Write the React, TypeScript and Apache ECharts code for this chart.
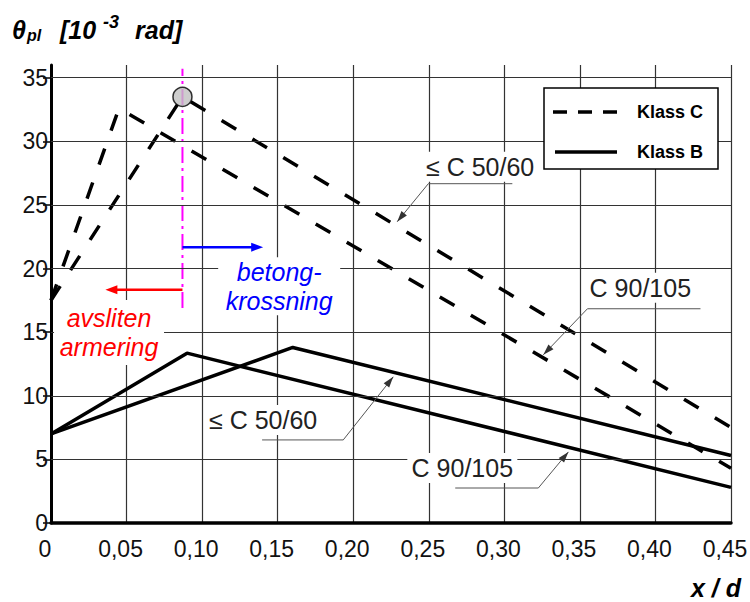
import React, { useEffect, useRef } from "react";
import * as echarts from "echarts";

// ---- data ----
const xTickValues = [0, 0.05, 0.1, 0.15, 0.2, 0.25, 0.3, 0.35, 0.4, 0.45];
const yTickValues = [0, 5, 10, 15, 20, 25, 30, 35];

// Klass C (dashed)
const klassC_50 = [[0, 17.5], [0.087, 33.5], [0.45, 7.5]];
const klassC_90 = [[0, 17.5], [0.045, 32.6], [0.45, 4.3]];
// Klass B (solid)
const klassB_50 = [[0, 7.0], [0.16, 13.8], [0.45, 5.3]];
const klassB_90 = [[0, 7.0], [0.09, 13.35], [0.45, 2.8]];

const peakPoint = [[0.087, 33.5]];
const boundaryLine = [[0.087, 16.9], [0.087, 35.7]];
const redArrow = [[0.087, 18.33], [0.036, 18.33]];
const blueArrow = [[0.087, 21.68], [0.1404, 21.68]];

const curveLabels = ["≤ C 50/60", "C 90/105", "≤ C 50/60", "C 90/105"];
const curveLabelAt = [[0.284, 28.0], [0.39, 18.49], [0.1404, 8.1], [0.2722, 4.33]];
const curveLeaders = [
  [[0.3053, 26.67], [0.2497, 26.67], [0.2291, 23.68]],
  [[0.4298, 16.84], [0.355, 16.84], [0.3258, 13.22]],
  [[0.1397, 6.53], [0.1934, 6.53], [0.2265, 11.49]],
  [[0.2675, 2.75], [0.3225, 2.75], [0.3424, 5.59]],
];

const noteTexts = [["avsliten", "armering"], ["betong-", "krossning"]];
const noteAt = [[0.0384, 14.98], [0.151, 18.6]];
const noteColors = ["#ff0000", "#0000ff"];

const FONT = "Arial, 'Liberation Sans', sans-serif";

export default function App() {
  const ref = useRef<HTMLDivElement>(null);

  useEffect(() => {
    if (!ref.current) return;
    const chart = echarts.init(ref.current, null, { renderer: "svg" });

    const option: any = {
      animation: false,
      backgroundColor: "#ffffff",
      grid: {
        left: 51,
        right: 19,
        top: 65,
        bottom: 79,
        containLabel: false,
        outerBoundsMode: "none",
      },
      xAxis: {
        type: "value",
        min: 0,
        max: 0.45,
        interval: 0.05,
        axisLine: { show: true, onZero: false, lineStyle: { color: "#000", width: 3.5 } },
        axisTick: { show: false },
        axisLabel: {
          fontFamily: FONT,
          fontSize: 23,
          color: "#111",
          margin: 14,
          padding: [0, 12, 0, 0],
          formatter: (v: number) => (Math.abs(v) < 1e-9 ? "0" : v.toFixed(2).replace(".", ",")),
        },
        splitLine: { show: true, lineStyle: { color: "#333", width: 1.2 } },
      },
      yAxis: {
        type: "value",
        min: 0,
        max: 36,
        interval: 5,
        axisLine: { show: true, onZero: false, lineStyle: { color: "#000", width: 3 } },
        axisTick: {
          show: true,
          length: 8,
          customValues: yTickValues,
          lineStyle: { color: "#000", width: 1.5 },
        },
        axisLabel: {
          fontFamily: FONT,
          fontSize: 23,
          color: "#111",
          margin: 3,
          customValues: yTickValues,
          formatter: (v: number) => (v % 5 === 0 ? String(v) : ""),
        },
        splitLine: { show: false },
      },
      series: [
        {
          type: "line",
          data: [],
          silent: true,
          markLine: {
            silent: true,
            symbol: "none",
            label: { show: false },
            lineStyle: { color: "#333", width: 1.2, type: "solid" },
            data: yTickValues.filter((v) => v > 0).map((v) => ({ yAxis: v })),
          },
        },
        {
          name: "Klass C ≤ C 50/60",
          type: "line",
          data: klassC_50,
          symbol: "none",
          lineStyle: { color: "#000", width: 3.5, type: [17, 19] },
          z: 3,
        },
        {
          name: "Klass C C 90/105",
          type: "line",
          data: klassC_90,
          symbol: "none",
          lineStyle: { color: "#000", width: 3.5, type: [17, 19] },
          z: 3,
        },
        {
          name: "Klass B ≤ C 50/60",
          type: "line",
          data: klassB_50,
          symbol: "none",
          lineStyle: { color: "#000", width: 3.5 },
          z: 3,
        },
        {
          name: "Klass B C 90/105",
          type: "line",
          data: klassB_90,
          symbol: "none",
          lineStyle: { color: "#000", width: 3.5 },
          z: 3,
        },
        {
          name: "boundary",
          type: "line",
          data: boundaryLine,
          symbol: "none",
          lineStyle: { color: "#ff00ff", width: 2, type: [16, 5, 3, 5] },
          z: 4,
        },
        {
          name: "peak",
          type: "scatter",
          data: peakPoint,
          symbol: "circle",
          symbolSize: 19,
          itemStyle: { color: "#c0c0c0", borderColor: "#000", borderWidth: 1.5 },
          z: 6,
        },
      ],
    };

    chart.setOption(option);

    const toPx = (p: number[]) => chart.convertToPixel({ gridIndex: 0 }, p) as number[];
    const g: any[] = [];

    const arrowHead = (from: number[], tip: number[], len: number, half: number, color: string) => {
      const dx = tip[0] - from[0];
      const dy = tip[1] - from[1];
      const d = Math.sqrt(dx * dx + dy * dy) || 1;
      const ux = dx / d, uy = dy / d;
      const bx = tip[0] - ux * len, by = tip[1] - uy * len;
      return {
        type: "polygon",
        z: 120,
        shape: {
          points: [
            [tip[0], tip[1]],
            [bx - uy * half, by + ux * half],
            [bx + uy * half, by - ux * half],
          ],
        },
        style: { fill: color },
      };
    };

    // colored arrows
    const arrows = [
      { pts: redArrow, color: "#ff0000" },
      { pts: blueArrow, color: "#0000ff" },
    ];
    arrows.forEach((a) => {
      const p0 = toPx(a.pts[0]);
      const p1 = toPx(a.pts[1]);
      g.push({
        type: "line",
        z: 110,
        shape: { x1: p0[0], y1: p0[1], x2: p1[0] + (p1[0] > p0[0] ? -8 : 8), y2: p1[1] },
        style: { stroke: a.color, lineWidth: 2.5 },
      });
      g.push(arrowHead(p0, p1, 12, 4.5, a.color));
    });

    // red / blue notes with white backgrounds
    const noteBg = [[110, 65], [122, 58]];
    noteTexts.forEach((lines, i) => {
      const c = toPx(noteAt[i]);
      g.push({
        type: "rect",
        z: 100,
        shape: { x: c[0] - noteBg[i][0] / 2, y: c[1] - noteBg[i][1] / 2, width: noteBg[i][0], height: noteBg[i][1] },
        style: { fill: "#fff" },
      });
      lines.forEach((t, j) => {
        g.push({
          type: "text",
          z: 101,
          x: c[0],
          y: c[1] + (j === 0 ? -14.5 : 14.5),
          style: {
            text: t,
            fill: noteColors[i],
            font: `italic 25px ${FONT}`,
            align: "center",
            verticalAlign: "middle",
          },
        });
      });
    });

    // curve labels with leaders
    curveLabels.forEach((t, i) => {
      const c = toPx(curveLabelAt[i]);
      const w = t.length > 8 ? 118 : 110;
      g.push({
        type: "rect",
        z: 100,
        shape: { x: c[0] - w / 2, y: c[1] - 15, width: w, height: 30 },
        style: { fill: "#fff" },
      });
      g.push({
        type: "text",
        z: 101,
        x: c[0],
        y: c[1],
        style: { text: t, fill: "#222", font: `25px ${FONT}`, align: "center", verticalAlign: "middle" },
      });
      const pts = curveLeaders[i].map(toPx);
      g.push({
        type: "polyline",
        z: 102,
        shape: { points: pts },
        style: { stroke: "#555", lineWidth: 1, fill: null },
      });
      g.push(arrowHead(pts[pts.length - 2], pts[pts.length - 1], 11, 3.5, "#333"));
    });

    // title (y axis name)
    const bi = (size: number) => `italic bold ${size}px ${FONT}`;
    g.push({ type: "text", x: 12, y: 30, style: { text: "θ", fill: "#000", font: bi(25), verticalAlign: "middle" } });
    g.push({ type: "text", x: 27, y: 35, style: { text: "pl", fill: "#000", font: bi(16), verticalAlign: "middle" } });
    g.push({ type: "text", x: 60, y: 30, style: { text: "[10", fill: "#000", font: bi(25), verticalAlign: "middle" } });
    g.push({ type: "text", x: 103, y: 22, style: { text: "-3", fill: "#000", font: bi(18), verticalAlign: "middle" } });
    g.push({ type: "text", x: 135, y: 30, style: { text: "rad]", fill: "#000", font: bi(25), verticalAlign: "middle" } });

    // x axis name
    g.push({
      type: "text",
      x: 741,
      y: 588,
      style: { text: "x / d", fill: "#000", font: bi(25), align: "right", verticalAlign: "middle" },
    });

    // legend
    g.push({
      type: "rect",
      z: 100,
      shape: { x: 544, y: 88, width: 174, height: 81 },
      style: { fill: "#fff", stroke: "#000", lineWidth: 1.5 },
    });
    g.push({
      type: "line",
      z: 101,
      shape: { x1: 553, y1: 112, x2: 617, y2: 112 },
      style: { stroke: "#000", lineWidth: 3.5, lineDash: [14, 11] },
    });
    g.push({
      type: "line",
      z: 101,
      shape: { x1: 555, y1: 152, x2: 617, y2: 152 },
      style: { stroke: "#000", lineWidth: 3.5 },
    });
    g.push({
      type: "text",
      z: 101,
      x: 637,
      y: 112,
      style: { text: "Klass C", fill: "#000", font: `bold 18px ${FONT}`, verticalAlign: "middle" },
    });
    g.push({
      type: "text",
      z: 101,
      x: 637,
      y: 152,
      style: { text: "Klass B", fill: "#000", font: `bold 18px ${FONT}`, verticalAlign: "middle" },
    });

    chart.setOption({ graphic: { elements: g } });

    return () => {
      chart.dispose();
    };
  }, []);

  return (
    <div
      ref={ref}
      style={{ position: "fixed", left: 0, top: 0, width: 750, height: 602, background: "#fff" }}
    />
  );
}
